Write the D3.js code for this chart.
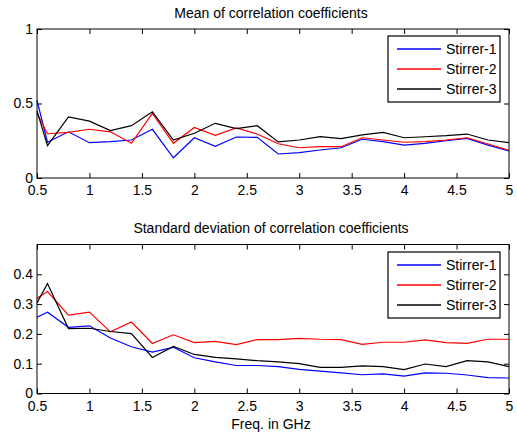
<!DOCTYPE html>
<html>
<head>
<meta charset="utf-8">
<script src="https://cdn.jsdelivr.net/npm/d3@7"></script>
<style>
  body { margin: 0; background: #fff; }
  svg { display: block; font-family: "Liberation Sans", Arial, sans-serif; }
</style>
</head>
<body>
<div id="container"></div>
<script>
const width = 517;
const height = 433;

// Frequencies (GHz) at which the coefficients were measured
const freq = [0.5, 0.6, 0.8, 1.0, 1.2, 1.4, 1.6, 1.8, 2.0, 2.2, 2.4, 2.6,
              2.8, 3.0, 3.2, 3.4, 3.6, 3.8, 4.0, 4.2, 4.4, 4.6, 4.8, 5.0];

const stirrers = ["Stirrer-1", "Stirrer-2", "Stirrer-3"];
const colors = ["#0000ff", "#ff0000", "#000000"];

// Mean of correlation coefficients
const mean1 = [0.52, 0.24, 0.31, 0.237, 0.244, 0.255, 0.327, 0.136, 0.27, 0.213, 0.275, 0.273,
               0.161, 0.17, 0.188, 0.203, 0.26, 0.244, 0.221, 0.233, 0.25, 0.266, 0.221, 0.181];
const mean2 = [0.435, 0.297, 0.306, 0.327, 0.31, 0.233, 0.434, 0.233, 0.339, 0.286, 0.336, 0.295,
               0.23, 0.203, 0.21, 0.21, 0.27, 0.255, 0.24, 0.244, 0.255, 0.27, 0.228, 0.186];
const mean3 = [0.45, 0.217, 0.41, 0.382, 0.318, 0.351, 0.445, 0.255, 0.3, 0.367, 0.331, 0.351,
               0.242, 0.255, 0.277, 0.264, 0.289, 0.306, 0.27, 0.277, 0.284, 0.295, 0.255, 0.237];

// Standard deviation of correlation coefficients
const std1 = [0.256, 0.273, 0.222, 0.227, 0.186, 0.157, 0.139, 0.155, 0.12, 0.106, 0.094, 0.094,
              0.09, 0.081, 0.075, 0.069, 0.063, 0.066, 0.058, 0.069, 0.068, 0.062, 0.053, 0.052];
const std2 = [0.32, 0.342, 0.263, 0.273, 0.207, 0.24, 0.168, 0.197, 0.171, 0.175, 0.164, 0.181,
              0.181, 0.185, 0.182, 0.181, 0.165, 0.172, 0.172, 0.18, 0.171, 0.168, 0.182, 0.182];
const std3 = [0.304, 0.369, 0.218, 0.219, 0.208, 0.201, 0.121, 0.158, 0.131, 0.121, 0.116, 0.11,
              0.106, 0.1, 0.088, 0.088, 0.093, 0.09, 0.08, 0.099, 0.09, 0.11, 0.106, 0.09];

const xTicks = [0.5, 1, 1.5, 2, 2.5, 3, 3.5, 4, 4.5, 5];
const fmt = d3.format("~g");

const svg = d3.select("#container").append("svg")
  .attr("width", width)
  .attr("height", height)
  .attr("viewBox", [0, 0, width, height]);

function panel(opt) {
  const x = d3.scaleLinear().domain([0.5, 5]).range([37, 509]);
  const y = d3.scaleLinear().domain(opt.yDomain).range([opt.bottom, opt.top]);
  const g = svg.append("g");

  // title
  g.append("text")
    .attr("x", 271)
    .attr("y", opt.top - 11.5)
    .attr("text-anchor", "middle")
    .attr("font-size", 14)
    .text(opt.title);

  // lines
  const line = d3.line().x((d, i) => x(freq[i])).y(d => y(d));
  opt.series.forEach((s, i) => {
    g.append("path")
      .attr("d", line(s))
      .attr("fill", "none")
      .attr("stroke", colors[i])
      .attr("stroke-width", 1.2);
  });

  // axes with inward ticks
  g.append("g")
    .attr("transform", `translate(0,${opt.bottom})`)
    .call(d3.axisBottom(x).tickValues(xTicks).tickFormat(fmt).tickSize(-5).tickPadding(opt.xPad))
    .call(a => a.select(".domain").remove())
    .call(a => a.selectAll("text").attr("font-size", 14).attr("fill", "#000").attr("font-family", null));
  g.append("g")
    .attr("transform", `translate(0,${opt.top})`)
    .call(d3.axisTop(x).tickValues(xTicks).tickFormat("").tickSize(-5))
    .call(a => a.select(".domain").remove());
  g.append("g")
    .attr("transform", "translate(37,0)")
    .call(d3.axisLeft(y).tickValues(opt.yTicks).tickFormat(fmt).tickSize(-5).tickPadding(4))
    .call(a => a.select(".domain").remove())
    .call(a => a.selectAll("text").attr("font-size", 14).attr("fill", "#000").attr("font-family", null));
  g.append("g")
    .attr("transform", "translate(509,0)")
    .call(d3.axisRight(y).tickValues(opt.yTicks).tickFormat("").tickSize(-5))
    .call(a => a.select(".domain").remove());

  g.append("rect")
    .attr("x", 37).attr("y", opt.top)
    .attr("width", 509 - 37).attr("height", opt.bottom - opt.top)
    .attr("fill", "none").attr("stroke", "#000").attr("stroke-width", 1);

  // legend
  const lg = g.append("g").attr("transform", `translate(388,${opt.legendTop})`);
  lg.append("rect")
    .attr("width", 112).attr("height", 66)
    .attr("fill", "#fff").attr("stroke", "#000").attr("stroke-width", 1.2);
  stirrers.forEach((name, i) => {
    const yy = 13 + i * 20;
    lg.append("path")
      .attr("d", `M9,${yy}H53`)
      .attr("fill", "none")
      .attr("stroke", colors[i])
      .attr("stroke-width", 1.3);
    lg.append("text")
      .attr("x", 58).attr("y", yy).attr("dy", "0.35em")
      .attr("font-size", 14)
      .text(name);
  });
}

panel({
  title: "Mean of correlation coefficients",
  top: 29, bottom: 178,
  yDomain: [0, 1], yTicks: [0, 0.5, 1],
  series: [mean1, mean2, mean3],
  legendTop: 36, xPad: 7
});

panel({
  title: "Standard deviation of correlation coefficients",
  top: 244.5, bottom: 393.5,
  yDomain: [0, 0.5], yTicks: [0, 0.1, 0.2, 0.3, 0.4],
  series: [std1, std2, std3],
  legendTop: 252, xPad: 8
});

svg.append("text")
  .attr("x", 271)
  .attr("y", 429)
  .attr("text-anchor", "middle")
  .attr("font-size", 14)
  .text("Freq. in GHz");
</script>
</body>
</html>
